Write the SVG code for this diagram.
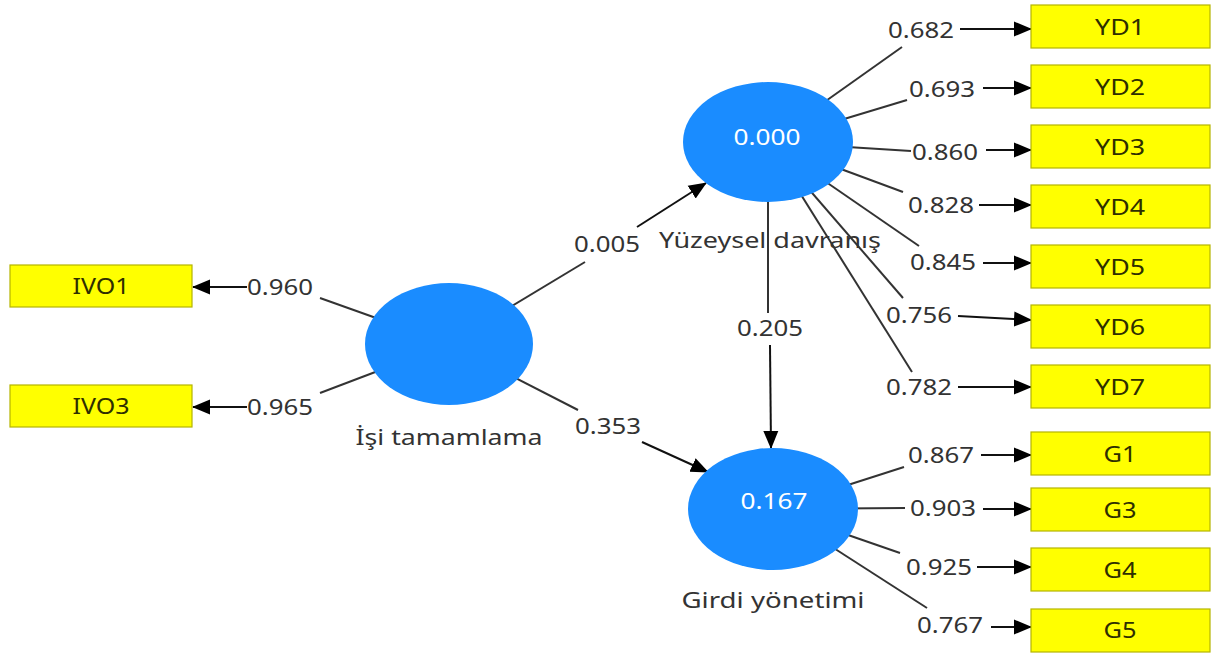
<svg xmlns="http://www.w3.org/2000/svg" width="1213" height="655" viewBox="0 0 1213 655">
<defs>
<marker id="ah" markerUnits="userSpaceOnUse" markerWidth="18" markerHeight="18" viewBox="0 0 18 18" refX="17" refY="9" orient="auto">
<path d="M0,1.5 L18,9 L0,16.5 z" fill="#000"/>
</marker>
<style>
.ln{stroke:#333;stroke-width:2;fill:none}
.ar{stroke:#111;stroke-width:2;fill:none;marker-end:url(#ah)}
.lv{fill:#1a8cff}
.bx{fill:#ffff00;stroke:#b5b500;stroke-width:1.2}
text{font-family:"Noto Sans","Open Sans","Liberation Sans",sans-serif;font-size:21px;dominant-baseline:central;text-anchor:middle;fill:#333333}
.bt{fill:#2e2e00}
.wt{fill:#ffffff}
</style>
</defs>
<rect width="1213" height="655" fill="#ffffff"/>
<g id="connectors">
<line class="ln" x1="449" y1="344" x2="320" y2="298"/>
<line class="ar" x1="247" y1="287" x2="193" y2="287"/>
<text x="280" y="287" textLength="66" lengthAdjust="spacingAndGlyphs">0.960</text>
<line class="ln" x1="449" y1="344" x2="320" y2="393"/>
<line class="ar" x1="247" y1="407" x2="193" y2="407"/>
<text x="280" y="407" textLength="66" lengthAdjust="spacingAndGlyphs">0.965</text>
<line class="ln" x1="449" y1="344" x2="585" y2="262"/>
<line class="ar" x1="637" y1="227" x2="706" y2="183"/>
<text x="607" y="244" textLength="66" lengthAdjust="spacingAndGlyphs">0.005</text>
<line class="ln" x1="449" y1="344" x2="578" y2="410"/>
<line class="ar" x1="642" y1="442" x2="708" y2="472"/>
<text x="608" y="426" textLength="66" lengthAdjust="spacingAndGlyphs">0.353</text>
<line class="ln" x1="768" y1="142" x2="768" y2="313"/>
<line class="ar" x1="770" y1="345" x2="771" y2="448"/>
<text x="770" y="328" textLength="66" lengthAdjust="spacingAndGlyphs">0.205</text>
<line class="ln" x1="768" y1="142" x2="902" y2="47"/>
<line class="ar" x1="960" y1="29" x2="1031" y2="29"/>
<text x="921" y="30" textLength="66" lengthAdjust="spacingAndGlyphs">0.682</text>
<line class="ln" x1="768" y1="142" x2="907" y2="100"/>
<line class="ar" x1="983" y1="88" x2="1031" y2="88"/>
<text x="942" y="89" textLength="66" lengthAdjust="spacingAndGlyphs">0.693</text>
<line class="ln" x1="768" y1="142" x2="911" y2="151"/>
<line class="ar" x1="986" y1="150" x2="1031" y2="150"/>
<text x="945" y="152" textLength="66" lengthAdjust="spacingAndGlyphs">0.860</text>
<line class="ln" x1="768" y1="142" x2="903" y2="192"/>
<line class="ar" x1="979" y1="205" x2="1031" y2="205"/>
<text x="941" y="205" textLength="66" lengthAdjust="spacingAndGlyphs">0.828</text>
<line class="ln" x1="768" y1="142" x2="919" y2="246"/>
<line class="ar" x1="983" y1="263" x2="1031" y2="263"/>
<text x="943" y="262" textLength="66" lengthAdjust="spacingAndGlyphs">0.845</text>
<line class="ln" x1="768" y1="142" x2="903" y2="298"/>
<line class="ar" x1="958" y1="316" x2="1031" y2="320"/>
<text x="919" y="315" textLength="66" lengthAdjust="spacingAndGlyphs">0.756</text>
<line class="ln" x1="768" y1="142" x2="912" y2="372"/>
<line class="ar" x1="958" y1="387" x2="1031" y2="387"/>
<text x="919" y="387" textLength="66" lengthAdjust="spacingAndGlyphs">0.782</text>
<line class="ln" x1="773" y1="509" x2="904" y2="467"/>
<line class="ar" x1="981" y1="455" x2="1031" y2="455"/>
<text x="941" y="455" textLength="66" lengthAdjust="spacingAndGlyphs">0.867</text>
<line class="ln" x1="773" y1="509" x2="905" y2="508"/>
<line class="ar" x1="983" y1="509" x2="1031" y2="509"/>
<text x="943" y="508" textLength="66" lengthAdjust="spacingAndGlyphs">0.903</text>
<line class="ln" x1="773" y1="509" x2="900" y2="553"/>
<line class="ar" x1="977" y1="567" x2="1031" y2="567"/>
<text x="939" y="567" textLength="66" lengthAdjust="spacingAndGlyphs">0.925</text>
<line class="ln" x1="773" y1="509" x2="927" y2="608"/>
<line class="ar" x1="991" y1="627" x2="1031" y2="627"/>
<text x="950" y="625" textLength="66" lengthAdjust="spacingAndGlyphs">0.767</text>
</g>
<g id="isi">
<ellipse class="lv" cx="449" cy="344" rx="84" ry="61"/>
<text x="449" y="437" textLength="187" lengthAdjust="spacingAndGlyphs">İşi tamamlama</text>
</g>
<g id="yuzeysel">
<ellipse class="lv" cx="768" cy="142" rx="85" ry="60"/>
<text class="wt" x="767" y="137" textLength="67" lengthAdjust="spacingAndGlyphs">0.000</text>
<text x="770" y="240" textLength="222" lengthAdjust="spacingAndGlyphs">Yüzeysel davranış</text>
</g>
<g id="girdi">
<ellipse class="lv" cx="773" cy="509" rx="85" ry="61"/>
<text class="wt" x="774" y="501" textLength="67" lengthAdjust="spacingAndGlyphs">0.167</text>
<text x="773" y="600" textLength="183" lengthAdjust="spacingAndGlyphs">Girdi yönetimi</text>
</g>
<g id="IVO1"><rect class="bx" x="10" y="265" width="182" height="42"/><text class="bt" x="101" y="286" textLength="57" lengthAdjust="spacingAndGlyphs">IVO1</text></g>
<g id="IVO3"><rect class="bx" x="10" y="385" width="182" height="42"/><text class="bt" x="101" y="406" textLength="57" lengthAdjust="spacingAndGlyphs">IVO3</text></g>
<g id="YD1"><rect class="bx" x="1031" y="5" width="179" height="43"/><text class="bt" x="1120" y="27" textLength="50" lengthAdjust="spacingAndGlyphs">YD1</text></g>
<g id="YD2"><rect class="bx" x="1031" y="65" width="179" height="43"/><text class="bt" x="1120" y="87" textLength="50" lengthAdjust="spacingAndGlyphs">YD2</text></g>
<g id="YD3"><rect class="bx" x="1031" y="125" width="179" height="43"/><text class="bt" x="1120" y="147" textLength="50" lengthAdjust="spacingAndGlyphs">YD3</text></g>
<g id="YD4"><rect class="bx" x="1031" y="185" width="179" height="43"/><text class="bt" x="1120" y="207" textLength="50" lengthAdjust="spacingAndGlyphs">YD4</text></g>
<g id="YD5"><rect class="bx" x="1031" y="245" width="179" height="43"/><text class="bt" x="1120" y="267" textLength="50" lengthAdjust="spacingAndGlyphs">YD5</text></g>
<g id="YD6"><rect class="bx" x="1031" y="305" width="179" height="43"/><text class="bt" x="1120" y="327" textLength="50" lengthAdjust="spacingAndGlyphs">YD6</text></g>
<g id="YD7"><rect class="bx" x="1031" y="365" width="179" height="43"/><text class="bt" x="1120" y="387" textLength="50" lengthAdjust="spacingAndGlyphs">YD7</text></g>
<g id="G1"><rect class="bx" x="1031" y="432" width="179" height="43"/><text class="bt" x="1120" y="454" textLength="33" lengthAdjust="spacingAndGlyphs">G1</text></g>
<g id="G3"><rect class="bx" x="1031" y="488" width="179" height="43"/><text class="bt" x="1120" y="510" textLength="33" lengthAdjust="spacingAndGlyphs">G3</text></g>
<g id="G4"><rect class="bx" x="1031" y="548" width="179" height="43"/><text class="bt" x="1120" y="570" textLength="33" lengthAdjust="spacingAndGlyphs">G4</text></g>
<g id="G5"><rect class="bx" x="1031" y="609" width="179" height="43"/><text class="bt" x="1120" y="630" textLength="33" lengthAdjust="spacingAndGlyphs">G5</text></g>
</svg>
